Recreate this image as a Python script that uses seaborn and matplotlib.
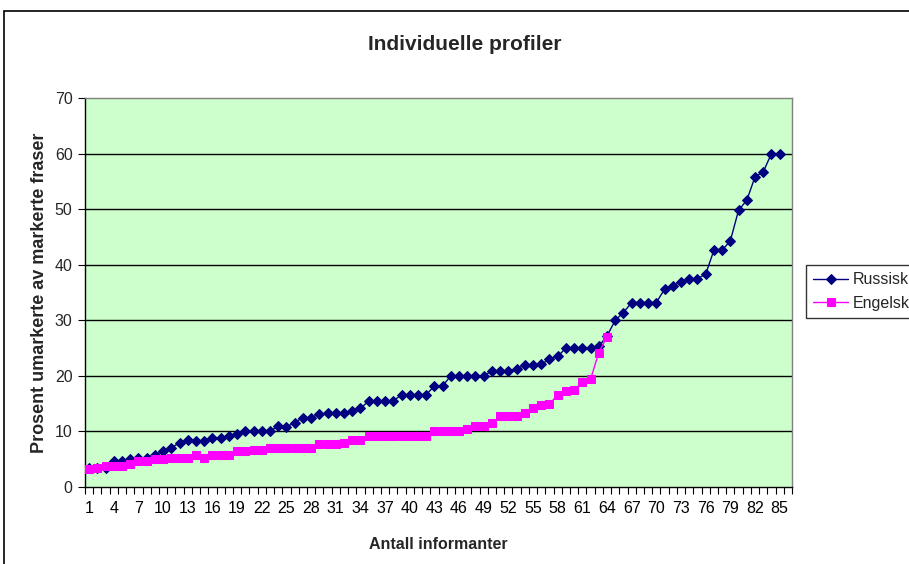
import matplotlib
matplotlib.use("Agg")
import matplotlib.pyplot as plt
import matplotlib.patches as mpatches
from matplotlib.ticker import FixedLocator, NullFormatter
import seaborn as sns
import pandas as pd
import numpy as np

russisk = [3.5, 3.5, 3.4, 4.7, 4.7, 5.0, 5.3, 5.2, 5.8, 6.4,
           7.0, 8.0, 8.5, 8.3, 8.3, 8.8, 8.9, 9.1, 9.5, 10.0,
           10.0, 10.1, 10.1, 10.9, 10.8, 11.6, 12.5, 12.5, 13.1, 13.3,
           13.3, 13.3, 13.6, 14.2, 15.4, 15.4, 15.4, 15.5, 16.6, 16.5,
           16.5, 16.6, 18.2, 18.2, 20.0, 20.0, 20.0, 20.0, 20.0, 20.9,
           20.9, 20.9, 21.2, 22.0, 22.0, 22.1, 23.0, 23.5, 25.0, 25.0,
           25.0, 25.0, 25.3, 27.2, 30.0, 31.4, 33.2, 33.2, 33.2, 33.2,
           35.6, 36.2, 36.9, 37.5, 37.5, 38.3, 42.6, 42.6, 44.3, 49.8,
           51.6, 55.8, 56.7, 60.0, 60.0]
engelsk = [3.2, 3.5, 3.8, 3.8, 3.8, 4.1, 4.6, 4.7, 5.0, 5.0,
           5.2, 5.2, 5.2, 5.8, 5.2, 5.7, 5.7, 5.7, 6.4, 6.4,
           6.6, 6.6, 7.1, 7.1, 7.1, 7.1, 7.1, 7.1, 7.7, 7.7,
           7.7, 8.0, 8.5, 8.5, 9.2, 9.2, 9.2, 9.2, 9.2, 9.2,
           9.2, 9.2, 10.1, 10.1, 10.1, 10.1, 10.5, 11.0, 11.0, 11.5,
           12.7, 12.7, 12.7, 13.4, 14.3, 14.8, 14.9, 16.6, 17.3, 17.5,
           18.9, 19.4, 24.2, 27.0]
n_categories = 86
x_tick_labels = list(range(1, 86, 3))
y_ticks = [0, 10, 20, 30, 40, 50, 60, 70]

title = "Individuelle profiler"
xlabel = "Antall informanter"
ylabel = "Prosent umarkerte av markerte fraser"

sns.set_theme(style="white")
plt.rcParams['font.family'] = ['Liberation Sans', 'DejaVu Sans']

W, H = 909, 564
fig = plt.figure(figsize=(W / 100, H / 100), dpi=100)
fig.patch.set_facecolor("white")

L, R, T, B = 85, 792, 98, 487
ax = fig.add_axes([L / W, 1 - B / H, (R - L) / W, (B - T) / H])
ax.set_facecolor("#CCFFCC")

df_r = pd.DataFrame({"x": np.arange(1, len(russisk) + 1), "y": russisk})
df_e = pd.DataFrame({"x": np.arange(1, len(engelsk) + 1), "y": engelsk})

sns.lineplot(data=df_r, x="x", y="y", ax=ax, color="#000080", lw=1.0,
             marker="D", markersize=5.5, markeredgecolor="#000080",
             markerfacecolor="#000080", label="Russisk", zorder=3)
sns.lineplot(data=df_e, x="x", y="y", ax=ax, color="#FF00FF", lw=1.0,
             marker="s", markersize=5.5, markeredgecolor="#FF00FF",
             markerfacecolor="#FF00FF", label="Engelsk", zorder=4)

ax.set_xlim(0.5, n_categories + 0.5)
ax.set_ylim(0, 70)
ax.set_yticks(y_ticks)
for v in y_ticks[1:-1]:
    ax.axhline(v, color="black", lw=1.0, zorder=1)

ax.xaxis.set_major_locator(FixedLocator(x_tick_labels))
ax.set_xticklabels([str(v) for v in x_tick_labels])
ax.xaxis.set_minor_locator(FixedLocator(np.arange(0.5, n_categories + 1, 1.0)))
ax.xaxis.set_minor_formatter(NullFormatter())
ax.tick_params(axis="x", which="major", length=0, pad=10, labelsize=11.5, colors="black")
ax.tick_params(axis="x", which="minor", length=5, width=0.8, color="black", bottom=True, direction="out")
ax.tick_params(axis="y", which="major", length=5, width=0.8, color="black", left=True,
               direction="out", labelsize=11.5, pad=4)

for side in ["top", "right"]:
    ax.spines[side].set_color("#808080")
    ax.spines[side].set_linewidth(1.0)
for side in ["left", "bottom"]:
    ax.spines[side].set_color("black")
    ax.spines[side].set_linewidth(1.0)

ax.set_xlabel(xlabel, fontsize=11.5, fontweight="bold", labelpad=15)
ax.set_ylabel(ylabel, fontsize=13, fontweight="bold", labelpad=5)
fig.text(465 / W, 1 - 44 / H, title, ha="center", va="center", fontsize=15, fontweight="bold")

ax.get_legend().remove()
handles, labels = ax.get_legend_handles_labels()
leg = fig.legend(handles, labels, loc="upper left",
                 bbox_to_anchor=(806 / W, 1 - 265 / H), frameon=True, fancybox=False,
                 fontsize=11.5, handlelength=2.2, handletextpad=0.25, borderpad=0.45,
                 labelspacing=0.55, borderaxespad=0)
leg.get_frame().set_edgecolor("black")
leg.get_frame().set_linewidth(1.0)
leg.get_frame().set_boxstyle("square", pad=0)

border = mpatches.Rectangle((4 / W, -0.1), 1.2, 1 - 11 / H + 0.1, transform=fig.transFigure,
                            fill=False, edgecolor="black", lw=1.2, clip_on=False)
fig.patches.append(border)

fig.savefig("out.png", dpi=100)
